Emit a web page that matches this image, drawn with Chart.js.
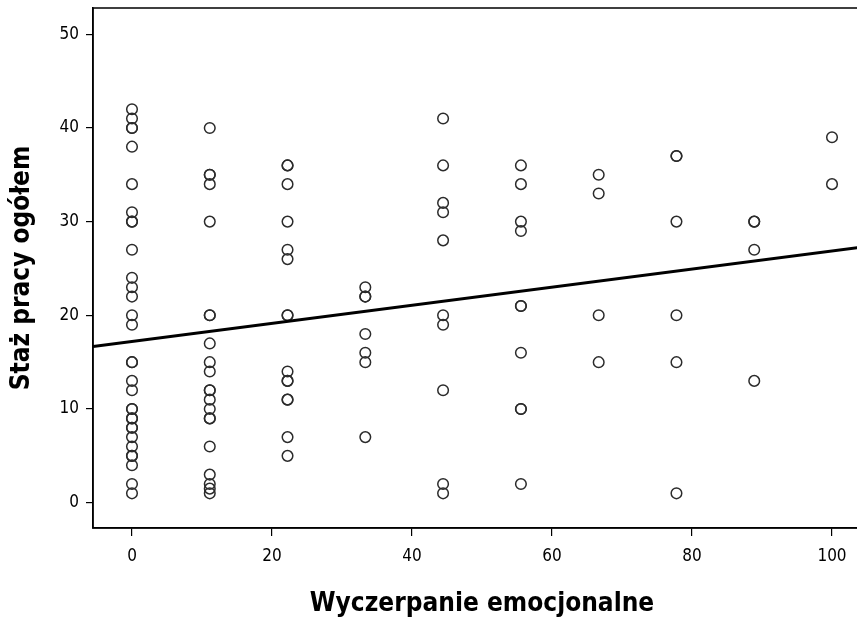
<!DOCTYPE html>
<html>
<head>
<meta charset="utf-8">
<script src="https://cdn.jsdelivr.net/npm/chart.js@4.4.1/dist/chart.umd.min.js"></script>
<style>
  html, body { margin: 0; padding: 0; background: #fff; overflow: hidden; }
  #wrap { width: 857px; height: 617px; position: relative; }
</style>
</head>
<body>
<div id="wrap"><canvas id="c"></canvas></div>
<script>
// ---- Data ----
const xLevels = [0, 11.11, 22.22, 33.33, 44.44, 55.56, 66.67, 77.78, 88.89, 100];
const y0   = [42,41,40,40,38,34,31,30,30,27,24,23,22,20,19,15,15,13,12,10,10,9,9,8,8,7,6,5,5,4,2,1];
const y11  = [40,35,35,34,30,20,20,17,15,14,12,12,11,10,9,9,6,3,2,1.5,1];
const y22  = [36,36,34,30,27,26,20,20,14,13,13,11,11,7,5];
const y33  = [23,22,22,18,16,15,7];
const y44  = [41,36,32,31,28,20,19,12,2,1];
const y56  = [36,34,30,29,21,21,16,10,10,2];
const y67  = [35,33,20,15];
const y78  = [37,37,30,20,15,1];
const y89  = [30,30,27,13];
const y100 = [39,34];
const yGroups = [y0, y11, y22, y33, y44, y56, y67, y78, y89, y100];

const xTicks = [0, 20, 40, 60, 80, 100];
const yTicks = [0, 10, 20, 30, 40, 50];
const xTitle = 'Wyczerpanie emocjonalne';
const yTitle = 'Staż pracy ogółem';
const xRange = [-5.57, 105.57];
const yRange = [-2.7, 52.8];

// build points
const points = [];
xLevels.forEach((x, i) => yGroups[i].forEach(y => points.push({x: x, y: y})));

// least-squares fit line
const n = points.length;
const mx = points.reduce((s, p) => s + p.x, 0) / n;
const my = points.reduce((s, p) => s + p.y, 0) / n;
let sxy = 0, sxx = 0;
points.forEach(p => { sxy += (p.x - mx) * (p.y - my); sxx += (p.x - mx) * (p.x - mx); });
const slope = sxy / sxx;
const intercept = my - slope * mx;
const fitLine = xRange.map(x => ({x: x, y: intercept + slope * x}));

// The plot frame in the original runs past the right edge of the image
const PLOT_RIGHT = 871;
const extendPlot = {
  id: 'extendPlot',
  afterLayout(chart) {
    const xs = chart.scales.x;
    xs.right = PLOT_RIGHT;
    xs.width = PLOT_RIGHT - xs.left;
    xs.configure();
    chart.chartArea.right = PLOT_RIGHT;
    chart.chartArea.width = PLOT_RIGHT - chart.chartArea.left;
  }
};

const frame = {
  id: 'frame',
  afterDatasetsDraw(chart) {
    const a = chart.chartArea, ctx = chart.ctx;
    ctx.save();
    ctx.strokeStyle = '#000';
    ctx.lineWidth = 1.5;
    ctx.strokeRect(a.left, a.top, a.right - a.left, a.bottom - a.top);
    ctx.restore();
  }
};

const fam = "'Liberation Sans Narrow', 'DejaVu Sans Condensed', 'Liberation Sans', Arial, sans-serif";
const tickFont = { family: fam, size: 17 };
const titleFont = { family: fam, size: 26, weight: 'bold', lineHeight: 1 };

const noPad = s => { s.paddingLeft = 0; s.paddingRight = 0; s.paddingTop = 0; s.paddingBottom = 0; };

new Chart(document.getElementById('c'), {
  type: 'scatter',
  data: {
    datasets: [
      {
        type: 'line',
        data: fitLine,
        borderColor: '#000',
        borderWidth: 3,
        pointRadius: 0,
        fill: false,
        order: 0
      },
      {
        data: points,
        pointStyle: 'circle',
        pointRadius: 5.3,
        pointHoverRadius: 5.3,
        borderColor: '#2b2b2b',
        backgroundColor: 'rgba(0,0,0,0)',
        borderWidth: 1.5,
        order: 1
      }
    ]
  },
  options: {
    responsive: true,
    maintainAspectRatio: false,
    animation: false,
    events: [],
    layout: { padding: { top: 8, right: 0, left: 0, bottom: 0 } },
    plugins: { legend: { display: false }, tooltip: { enabled: false } },
    scales: {
      x: {
        type: 'linear',
        min: xRange[0], max: xRange[1],
        afterBuildTicks: s => { s.ticks = xTicks.map(v => ({value: v})); },
        afterFit: s => { s.height = 89; noPad(s); },
        grid: { drawOnChartArea: false, drawTicks: true, tickLength: 8, color: '#000', lineWidth: 1.2 },
        border: { display: true, color: '#000', width: 1.5 },
        ticks: { color: '#000', font: tickFont, padding: 10, maxRotation: 0, autoSkip: false },
        title: { display: true, text: xTitle, color: '#000', font: titleFont, padding: { top: 0, bottom: 0 } }
      },
      y: {
        type: 'linear',
        min: yRange[0], max: yRange[1],
        afterBuildTicks: s => { s.ticks = yTicks.map(v => ({value: v})); },
        afterFit: s => { s.width = 93; noPad(s); },
        grid: { drawOnChartArea: false, drawTicks: true, tickLength: 7, color: '#000', lineWidth: 1.2 },
        border: { display: true, color: '#000', width: 1.5 },
        ticks: { color: '#000', font: tickFont, padding: 7, autoSkip: false },
        title: { display: true, text: yTitle, color: '#000', font: titleFont, padding: { top: 9, bottom: 0 } }
      }
    }
  },
  plugins: [extendPlot, frame]
});
</script>
</body>
</html>
